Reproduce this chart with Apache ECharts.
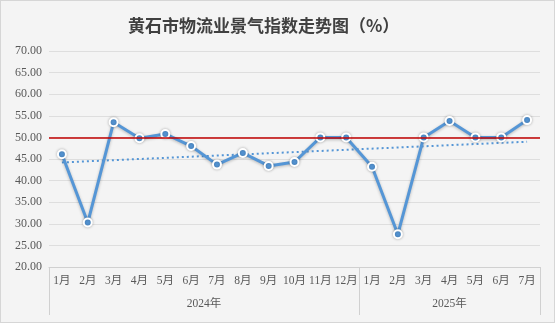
<!DOCTYPE html>
<html>
<head>
<meta charset="utf-8">
<script src="https://cdn.jsdelivr.net/npm/echarts@6/dist/echarts.min.js"></script>
<style>
  html, body { margin: 0; padding: 0; background: #f4f4f4; }
  #chart { width: 555px; height: 323px; box-sizing: border-box; border: 1px solid #d6d6d6; background: #f4f4f4; }
</style>
</head>
<body>
<div id="chart"></div>
<script>
// Monthly logistics prosperity index, Huangshi
const months = ['1月','2月','3月','4月','5月','6月','7月','8月','9月','10月','11月','12月',
                '1月','2月','3月','4月','5月','6月','7月'];
const years = ['2024年', '2025年'];
const yearSpans = [12, 7];                 // months per year group
const indexValues = [46.1, 30.3, 53.5, 49.8, 50.8, 48.0, 43.7, 46.4, 43.4, 44.3, 50.0, 50.0,
                     43.2, 27.6, 50.0, 53.8, 50.0, 50.0, 54.0];
const trendEnds = [44.2, 49.0];            // linear trend at first and last month
const threshold = 50;                      // boom/bust line
const yTicks = { min: 20, max: 70, step: 5 };

const trendData = months.map((_, i) => i === 0 ? trendEnds[0] : (i === months.length - 1 ? trendEnds[1] : null));

// year group boundaries and centres on a continuous 0..n scale
const bounds = [0];
yearSpans.forEach(s => bounds.push(bounds[bounds.length - 1] + s));
const centres = yearSpans.map((s, i) => bounds[i] + s / 2);

const serif = '"Liberation Serif", "DejaVu Serif", "Noto Sans CJK SC", serif';
const chart = echarts.init(document.getElementById('chart'));
chart.setOption({
  backgroundColor: '#f4f4f4',
  animation: false,
  title: {
    text: '黄石市物流业景气指数走势图（%）',
    left: 122, top: 11,
    textStyle: { fontFamily: '"Noto Sans CJK SC", sans-serif', fontSize: 17, fontWeight: 'bold', color: '#404040' }
  },
  grid: { left: 48, right: 14, top: 50, bottom: 55 },
  xAxis: [{
    type: 'category',
    data: months,
    boundaryGap: true,
    axisLine: { lineStyle: { color: '#d0d0d0' } },
    axisTick: { interval: 0, length: 25, lineStyle: { color: '#d0d0d0' } },
    axisLabel: { interval: 0, margin: 8, fontSize: 11.5, color: '#595959', fontFamily: serif }
  }, {
    type: 'value',
    position: 'bottom',
    min: 0, max: months.length,
    axisLine: { show: false },
    splitLine: { show: false },
    axisTick: { show: true, customValues: bounds, length: 48, lineStyle: { color: '#d0d0d0' } },
    axisLabel: {
      customValues: centres, margin: 31, fontSize: 11.5, color: '#595959', fontFamily: serif,
      formatter: v => years[centres.indexOf(v)]
    }
  }],
  yAxis: {
    type: 'value',
    min: yTicks.min, max: yTicks.max, interval: yTicks.step,
    axisLine: { show: false },
    axisTick: { show: false },
    splitLine: { lineStyle: { color: '#dedede' } },
    axisLabel: { margin: 7, fontSize: 12, color: '#595959', fontFamily: serif, formatter: v => v.toFixed(2) }
  },
  series: [{
    type: 'line',
    data: indexValues,
    symbol: 'circle',
    symbolSize: 8,
    lineStyle: { color: '#5596d6', width: 3, shadowColor: 'rgba(0,0,0,0.25)', shadowBlur: 3, shadowOffsetY: 1 },
    itemStyle: { color: '#5596d6', borderColor: '#ffffff', borderWidth: 2, shadowColor: 'rgba(0,0,0,0.25)', shadowBlur: 3 },
    z: 3,
    markLine: {
      silent: true,
      symbol: 'none',
      label: { show: false },
      lineStyle: { color: '#c00000', width: 1.5, type: 'solid' },
      data: [{ yAxis: threshold }]
    }
  }, {
    type: 'line',
    data: trendData,
    connectNulls: true,
    symbol: 'none',
    lineStyle: { color: '#5596d6', width: 2, type: [2, 3] },
    z: 2
  }]
});
</script>
</body>
</html>
